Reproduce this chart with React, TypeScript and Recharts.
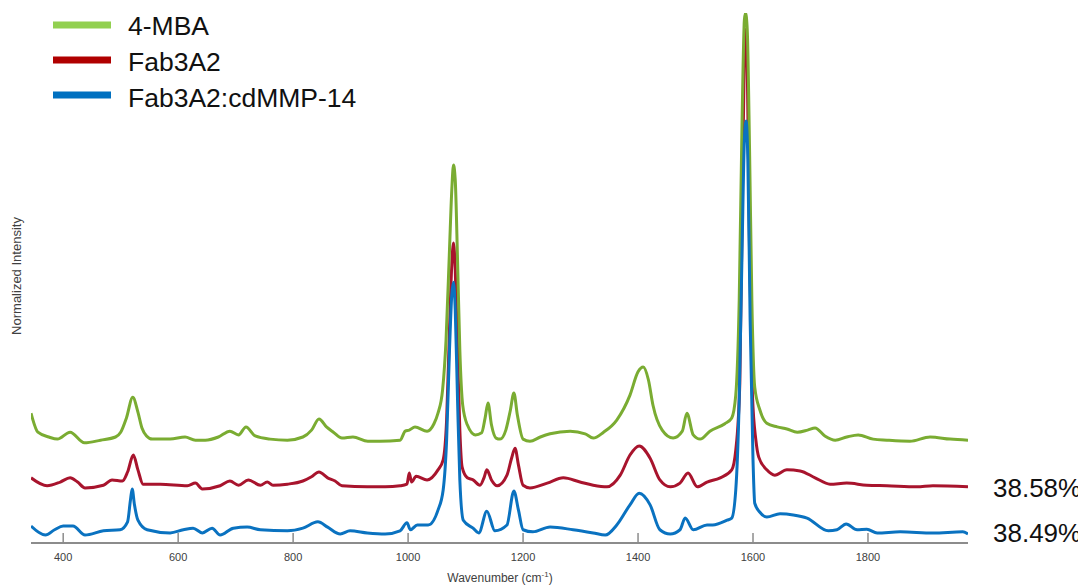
import React from "react";
import { LineChart, Line, XAxis, YAxis, Customized } from "recharts";

// Raman spectra, stacked with a vertical offset (wavenumber in cm-1, normalized intensity)
const mba4: [number, number][] = [
  [344, 24.5], [356, 20.9], [375, 20.0], [390, 19.6], [412, 20.9], [437, 18.9], [465, 19.4],
  [491, 20.0], [500, 20.9], [510, 23.6], [521, 27.5], [530, 24.7], [537, 21.7], [545, 20.2],
  [555, 19.6], [586, 19.6], [612, 20.0], [630, 19.4], [647, 19.4], [670, 20.0], [690, 21.1],
  [705, 20.4], [718, 21.9], [734, 20.2], [760, 19.6], [790, 19.4], [817, 20.0], [832, 21.3],
  [845, 23.4], [858, 21.9], [870, 20.9], [885, 19.8], [904, 20.0], [930, 19.2], [951, 19.2],
  [986, 19.4], [995, 21.1], [1002, 21.3], [1012, 21.9], [1033, 21.1], [1045, 22.5], [1052, 24.5],
  [1060, 28.9], [1066, 38.3], [1072, 55.3], [1076, 66.6], [1079, 71.3], [1082, 68.5], [1086, 53.4],
  [1090, 36.4], [1095, 26.0], [1103, 22.3], [1117, 20.4], [1128, 20.8], [1134, 23.6], [1139, 26.4],
  [1145, 22.3], [1153, 19.8], [1160, 19.6], [1170, 21.3], [1178, 25.1], [1184, 28.3], [1190, 24.2],
  [1200, 19.6], [1212, 19.2], [1230, 20.0], [1247, 20.6], [1282, 21.1], [1308, 20.6], [1322, 19.8],
  [1340, 20.9], [1363, 23.2], [1386, 27.9], [1400, 32.3], [1409, 33.2], [1418, 30.8], [1426, 26.0],
  [1442, 21.3], [1461, 19.8], [1477, 21.1], [1485, 24.5], [1496, 20.4], [1508, 19.6], [1525, 21.1],
  [1551, 22.5], [1563, 23.6], [1570, 27.9], [1576, 45.8], [1581, 79.8], [1585, 98.7], [1587, 100],
  [1590, 96.8], [1594, 74.2], [1598, 45.8], [1603, 29.4], [1612, 25.1], [1624, 22.6], [1642, 21.9],
  [1659, 21.5], [1677, 20.9], [1695, 21.3], [1708, 21.7], [1725, 20.2], [1743, 19.4], [1763, 20.0],
  [1783, 20.4], [1809, 19.6], [1833, 19.4], [1873, 19.2], [1908, 20.0], [1943, 19.6], [1974, 19.4],
];

const fab3a2: [number, number][] = [
  [344, 12.3], [372, 10.8], [395, 11.5], [412, 12.3], [425, 11.5], [438, 10.4], [470, 10.9],
  [485, 11.9], [503, 11.7], [512, 13.4], [522, 16.6], [530, 13.8], [539, 11.1], [569, 11.1],
  [616, 10.8], [630, 11.3], [642, 10.2], [673, 10.8], [690, 11.7], [705, 10.9], [722, 11.9],
  [743, 10.9], [755, 11.5], [765, 10.9], [790, 11.1], [817, 11.7], [832, 12.5], [845, 13.4],
  [860, 12.3], [873, 11.7], [885, 10.8], [929, 10.6], [960, 10.6], [986, 10.8], [998, 11.1],
  [1002, 13.2], [1006, 11.5], [1014, 12.6], [1033, 11.9], [1052, 13.8], [1061, 15.7], [1067, 23.2],
  [1072, 40.2], [1076, 52.5], [1079, 56.6], [1082, 51.5], [1086, 36.4], [1090, 21.3], [1094, 14.3],
  [1103, 12.3], [1113, 11.9], [1125, 10.9], [1132, 12.3], [1137, 13.8], [1145, 11.9], [1155, 10.8],
  [1172, 12.8], [1180, 16.0], [1186, 17.9], [1192, 14.7], [1200, 10.9], [1212, 10.4], [1242, 11.3],
  [1270, 12.3], [1299, 11.5], [1322, 10.9], [1346, 10.6], [1369, 12.8], [1386, 16.6], [1402, 18.3],
  [1421, 16.0], [1438, 11.9], [1456, 10.6], [1473, 11.3], [1487, 13.2], [1503, 10.6], [1520, 11.5],
  [1543, 12.3], [1563, 13.8], [1570, 17.5], [1577, 30.0], [1582, 70.0], [1586, 95.0], [1588, 97.0],
  [1590, 90.0], [1594, 55.0], [1599, 28.0], [1605, 19.4], [1610, 16.2], [1624, 13.8], [1638, 12.8],
  [1659, 13.8], [1682, 13.6], [1708, 12.3], [1734, 11.1], [1763, 11.3], [1798, 10.9], [1833, 10.8],
  [1885, 10.6], [1913, 10.8], [1974, 10.6],
];

const fab3a2Mmp14: [number, number][] = [
  [344, 3.2], [369, 1.5], [385, 2.5], [400, 3.2], [417, 3.2], [438, 1.5], [470, 2.3], [499, 2.5],
  [512, 4.0], [517, 8.1], [520, 10.2], [524, 7.2], [530, 4.3], [546, 2.5], [586, 1.9], [609, 2.5],
  [626, 2.8], [642, 1.9], [659, 2.8], [673, 1.5], [696, 2.8], [720, 3.0], [743, 2.5], [790, 2.3],
  [817, 2.8], [843, 4.0], [860, 3.0], [882, 1.7], [899, 2.3], [929, 1.9], [960, 1.7], [986, 2.3],
  [998, 3.8], [1004, 2.5], [1016, 3.4], [1035, 3.4], [1052, 6.2], [1061, 10.0], [1067, 19.4],
  [1072, 36.4], [1076, 46.8], [1079, 49.2], [1082, 44.0], [1086, 27.0], [1090, 11.9], [1096, 4.3],
  [1113, 2.8], [1123, 1.9], [1137, 6.0], [1151, 2.3], [1172, 3.4], [1184, 9.8], [1192, 6.2],
  [1200, 2.5], [1217, 2.1], [1247, 3.0], [1287, 2.5], [1322, 1.9], [1343, 1.5], [1363, 3.4],
  [1386, 7.2], [1402, 9.4], [1421, 7.2], [1438, 2.5], [1456, 1.7], [1473, 2.5], [1482, 4.7],
  [1496, 2.5], [1520, 3.4], [1530, 3.4], [1555, 4.3], [1563, 4.7], [1570, 10.0], [1576, 27.0],
  [1581, 55.3], [1585, 76.0], [1588, 79.6], [1591, 72.3], [1595, 42.1], [1600, 15.7], [1603, 7.5],
  [1612, 5.8], [1624, 4.9], [1647, 5.5], [1670, 5.3], [1694, 4.7], [1731, 2.3], [1746, 2.5],
  [1762, 3.6], [1781, 2.5], [1798, 2.6], [1816, 1.9], [1856, 2.1], [1913, 1.9], [1965, 2.1],
  [1974, 1.7],
];

const xTicks = [400, 600, 800, 1000, 1200, 1400, 1600, 1800];
const seriesNames = ["4-MBA", "Fab3A2", "Fab3A2:cdMMP-14"];
const percentLabels = ["38.58%", "38.49%"];

const lineColors = ["#7aac32", "#a8142d", "#0a72c0"];
const legendColors = ["#92d050", "#b00000", "#0070c0"];
// paint order: Fab3A2 underneath, then 4-MBA, then Fab3A2:cdMMP-14 on top
const drawOrder = [1, 0, 2];

const toRows = (pts: [number, number][]) => pts.map(([x, y]) => ({ x, y }));

const FONT = "'Liberation Sans', Arial, Helvetica, sans-serif";

const WaveTick = (props: any) => {
  const { x, y, payload } = props;
  return (
    <g>
      <line x1={x} x2={x} y1={y - 10} y2={y} stroke="#8c8c8c" strokeWidth={1.5} />
      <text x={x} y={y + 18} textAnchor="middle" fontSize={11} fontFamily={FONT} fill="#404040">
        {payload.value}
      </text>
    </g>
  );
};

const Annotations = () => (
  <g fontFamily={FONT}>
    {seriesNames.map((name, i) => (
      <g key={name}>
        <line x1={45} x2={103} y1={17 + i * 35} y2={17 + i * 35} stroke={legendColors[i]} strokeWidth={7} />
        <text x={120} y={27 + i * 36} fontSize={26.5} fill="#111">
          {name}
        </text>
      </g>
    ))}
    {percentLabels.map((t, i) => (
      <text key={t} x={985} y={489 + i * 45} fontSize={26} fill="#111">
        {t}
      </text>
    ))}
    <text x={492} y={574} textAnchor="middle" fontSize={12} fill="#404040">
      Wavenumber (cm
      <tspan dy={-5} fontSize={8}>-1</tspan>
      <tspan dy={5}>)</tspan>
    </text>
    <text
      x={0}
      y={0}
      transform="translate(13, 268) rotate(-90)"
      textAnchor="middle"
      fontSize={13}
      fill="#404040"
    >
      Normalized Intensity
    </text>
  </g>
);

export default function App() {
  const datasets = [toRows(mba4), toRows(fab3a2), toRows(fab3a2Mmp14)];
  return (
    <div style={{ width: 1078, height: 579 }}>
      <LineChart width={1078} height={579} margin={{ top: 5, right: 118, bottom: 14, left: 23 }}>
        <XAxis
          dataKey="x"
          type="number"
          domain={[344, 1974]}
          ticks={xTicks}
          height={30}
          tickSize={0}
          tickMargin={0}
          tickLine={false}
          tick={<WaveTick />}
          axisLine={{ stroke: "#8c8c8c", strokeWidth: 2 }}
          allowDataOverflow
        />
        <YAxis
          type="number"
          domain={[0, 100]}
          width={0}
          tick={false}
          tickLine={false}
          axisLine={{ stroke: "#999999", strokeWidth: 2 }}
          allowDataOverflow
        />
        {drawOrder.map((i) => (
          <Line
            key={seriesNames[i]}
            data={datasets[i]}
            dataKey="y"
            name={seriesNames[i]}
            type="monotone"
            stroke={lineColors[i]}
            strokeWidth={3}
            dot={false}
            activeDot={false}
            isAnimationActive={false}
          />
        ))}
        <Customized component={<Annotations />} />
      </LineChart>
    </div>
  );
}
